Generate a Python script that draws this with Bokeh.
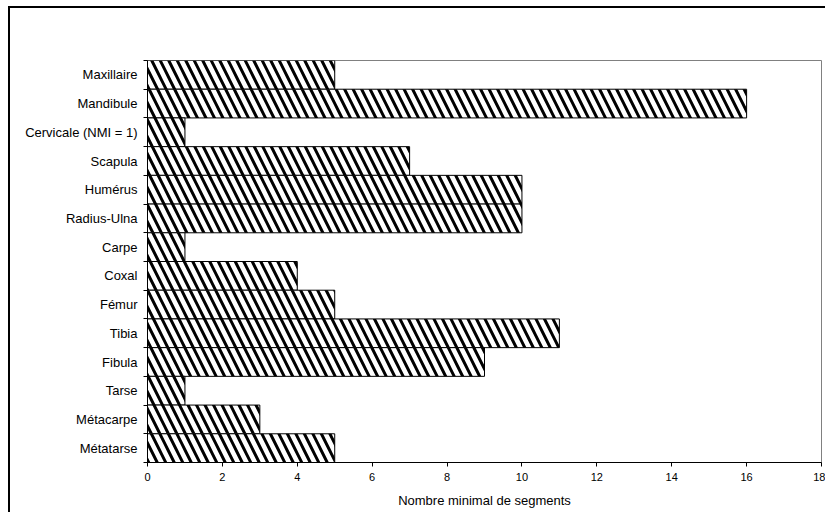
from bokeh.plotting import figure
from bokeh.layouts import column
from bokeh.models import FixedTicker, Label, Range1d
from bokeh.embed import file_html
from bokeh.resources import INLINE

categories = ["Maxillaire", "Mandibule", "Cervicale (NMI = 1)", "Scapula", "Humérus",
              "Radius-Ulna", "Carpe", "Coxal", "Fémur", "Tibia", "Fibula", "Tarse",
              "Métacarpe", "Métatarse"]
values = [5, 16, 1, 7, 10, 10, 1, 4, 5, 11, 9, 1, 3, 5]
x_ticks = [0, 2, 4, 6, 8, 10, 12, 14, 16, 18]
title_text = "NME droits, gauches et non latéralisés"
x_title = "Nombre minimal de segments"

n = len(categories)
bottoms = [n - 1 - i for i in range(n)]
tops = [b + 1 for b in bottoms]
centers = [b + 0.5 for b in bottoms]

FONT = "Liberation Sans"

p = figure(width=817, height=506, output_backend="svg", toolbar_location=None,
           x_range=Range1d(0, 18), y_range=Range1d(0, n),
           min_border_left=137, min_border_right=6, min_border_top=52, min_border_bottom=52)
p.styles = {"border-left": "2px solid black", "border-top": "2px solid black"}
p.background_fill_color = "white"
p.border_fill_color = "white"
p.outline_line_color = "#808080"
p.outline_line_width = 1
p.xgrid.visible = False
p.ygrid.visible = False

p.quad(left=0, right=values, bottom=bottoms, top=tops,
       fill_color="white", line_color="black", line_width=1,
       hatch_pattern="\\", hatch_color="black", hatch_scale=17, hatch_weight=3)

# x axis
xa = p.xaxis[0]
xa.ticker = FixedTicker(ticks=x_ticks)
xa.axis_line_color = "black"
xa.major_tick_line_color = "black"
xa.major_tick_out = 4
xa.major_tick_in = 0
xa.minor_tick_line_color = None
xa.major_label_text_font = FONT
xa.major_label_text_font_size = "11px"
xa.major_label_text_color = "black"
xa.major_label_standoff = 6
xa.axis_label = x_title
xa.axis_label_text_font = FONT
xa.axis_label_text_font_size = "13px"
xa.axis_label_text_font_style = "normal"
xa.axis_label_text_color = "black"
xa.axis_label_standoff = 9

# y axis
ya = p.yaxis[0]
ya.ticker = FixedTicker(ticks=centers, minor_ticks=list(range(n + 1)))
ya.major_label_overrides = {c: lab for c, lab in zip(centers, categories)}
ya.axis_line_color = "black"
ya.major_tick_line_color = None
ya.major_tick_out = 0
ya.major_tick_in = 0
ya.minor_tick_line_color = "black"
ya.minor_tick_out = 4
ya.minor_tick_in = 0
ya.major_label_text_font = FONT
ya.major_label_text_font_size = "13px"
ya.major_label_text_color = "black"
ya.major_label_standoff = 6

title = Label(x=279, y=429, x_units="screen", y_units="screen", text=title_text,
              text_font=FONT, text_font_size="11px", text_color="black",
              text_align="center", text_baseline="middle")
p.add_layout(title)

root = column(p, styles={"padding-left": "8px", "padding-top": "6px", "background": "white"})

open("out.html", "w").write(file_html(root, INLINE))
